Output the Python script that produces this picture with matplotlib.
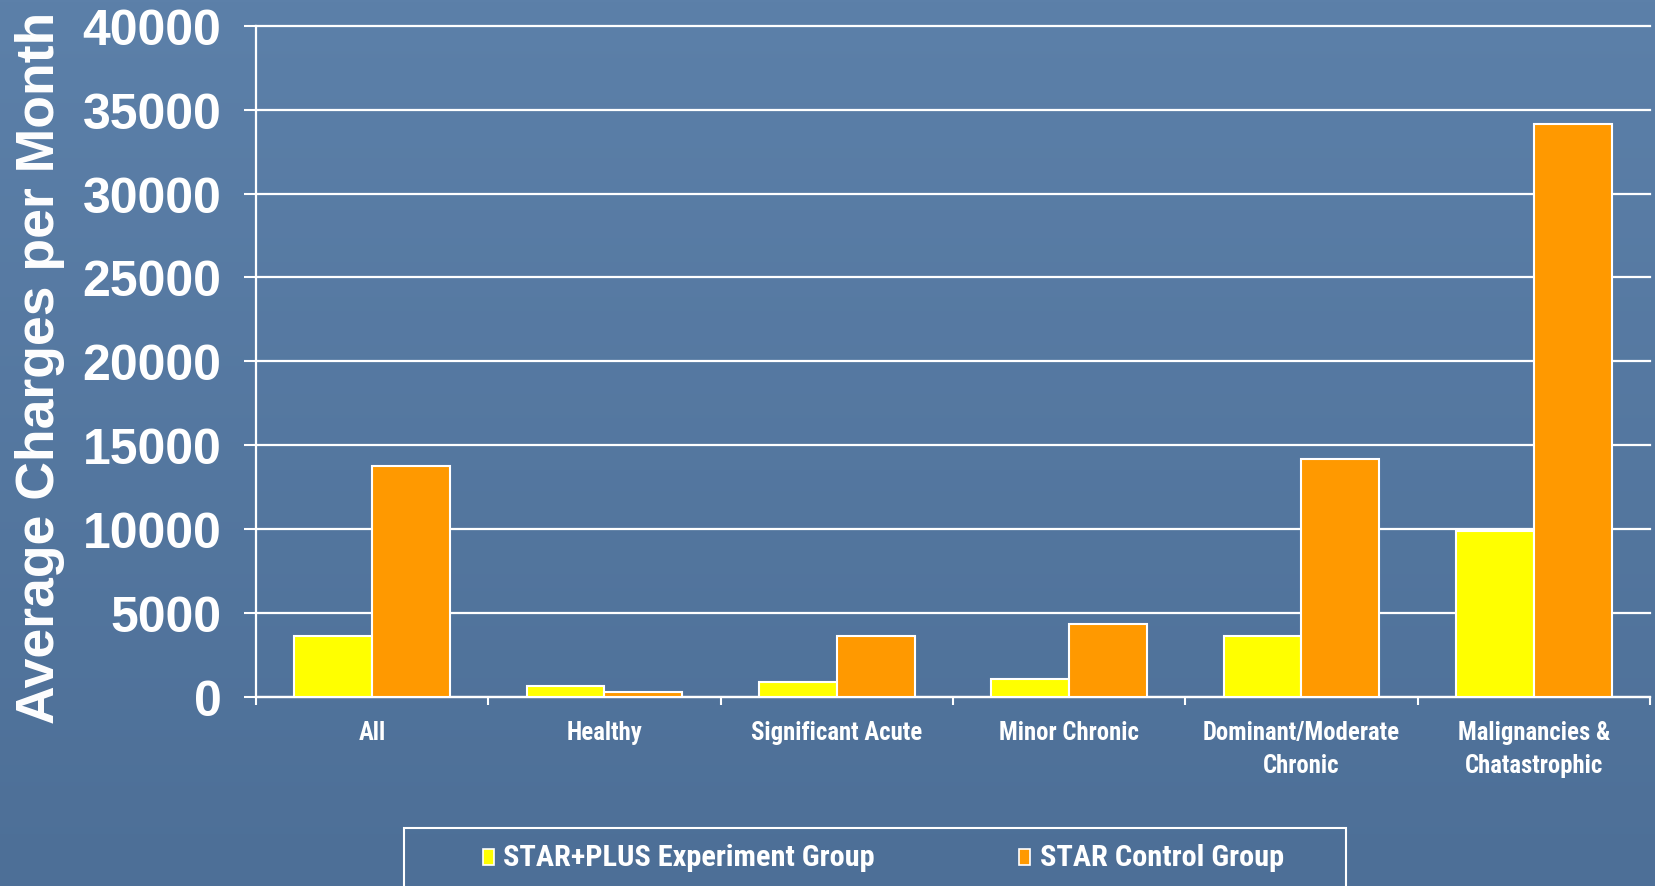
import numpy as np
import matplotlib
matplotlib.use("Agg")
import matplotlib.pyplot as plt
import matplotlib.font_manager as fm
from matplotlib.patches import Rectangle

# ---- data ----
categories = ["All", "Healthy", "Significant Acute", "Minor Chronic",
              "Dominant/Moderate\nChronic", "Malignancies &\nChatastrophic"]
experiment = [3600, 650, 900, 1050, 3600, 9850]      # STAR+PLUS Experiment Group
control = [13750, 250, 3600, 4350, 14150, 34150]     # STAR Control Group
series_names = ["STAR+PLUS Experiment Group", "STAR Control Group"]
y_ticks = [0, 5000, 10000, 15000, 20000, 25000, 30000, 35000, 40000]
y_label = "Average Charges per Month"

W, H = 1656, 887
YELLOW = "#FFFF00"
ORANGE = "#FF9900"


def fx(x):
    return x / W


def fy(y):
    return 1 - y / H


# ---- pick a condensed bold font if one is installed ----
def find_condensed_bold():
    prefs = ["Liberation Sans Narrow", "Roboto Condensed", "Open Sans Condensed",
             "DejaVu Sans Condensed", "Noto Sans Condensed"]
    cands = []
    for f in fm.fontManager.ttflist:
        is_bold = (f.weight in ("bold", 700, "heavy", "black", 800, 900)
                   or (isinstance(f.weight, int) and f.weight >= 600))
        cond = ("Narrow" in f.name or "Condensed" in f.name
                or f.stretch in ("condensed", "semi-condensed", "extra-condensed")
                or "Condensed" in f.fname or "Narrow" in f.fname)
        if is_bold and cond and "Italic" not in f.fname and "Oblique" not in f.fname \
                and f.style == "normal":
            rank = len(prefs)
            for i, p in enumerate(prefs):
                if p.split()[0] in f.name or p.replace(" ", "") in f.fname:
                    rank = i
                    break
            cands.append((rank, f.fname))
    if cands:
        cands.sort()
        return fm.FontProperties(fname=cands[0][1])
    return fm.FontProperties(family=["Liberation Sans", "DejaVu Sans"], weight="bold")


cond_fp = find_condensed_bold()
wide_fp = fm.FontProperties(family=["Liberation Sans", "DejaVu Sans"], weight="bold")

fig = plt.figure(figsize=(W / 100, H / 100), dpi=100)
renderer = fig.canvas.get_renderer()


def fit_size(s, fp, target_px):
    fp2 = fp.copy()
    fp2.set_size(20)
    t = fig.text(0, 0, s, fontproperties=fp2)
    bb = t.get_window_extent(renderer)
    t.remove()
    return 20 * target_px / bb.width


xlab_size = fit_size("Significant Acute", cond_fp, 171)
leg_size = fit_size("STAR+PLUS Experiment Group", cond_fp, 371)
ylab_size = fit_size(y_label, wide_fp, 711)

# background gradient
bg = fig.add_axes([0, 0, 1, 1], zorder=-10)
top_c = np.array([0x5C, 0x80, 0xA9]) / 255
bot_c = np.array([0x4D, 0x6F, 0x97]) / 255
tt = np.linspace(0, 1, 256)[:, None]
grad = top_c[None, :] * (1 - tt) + bot_c[None, :] * tt
bg.imshow(grad[:, None, :].repeat(2, axis=1), aspect="auto", extent=[0, 1, 0, 1])
bg.set_axis_off()

left, right = 256, 1650
top, bottom = 27, 697.6
ax = fig.add_axes([fx(left), fy(bottom), (right - left) / W, (bottom - top) / H])
ax.set_facecolor("none")

x = np.arange(len(categories))
w = 0.335
ax.bar(x - w / 2, experiment, w, color=YELLOW, edgecolor="white", linewidth=1.5, zorder=3)
ax.bar(x + w / 2, control, w, color=ORANGE, edgecolor="white", linewidth=1.5, zorder=3)

ax.set_xlim(-0.5, len(categories) - 0.5)
ax.set_ylim(0, 40000)

ax.set_yticks(y_ticks)
ax.set_yticklabels([str(v) for v in y_ticks], family=["Liberation Sans", "DejaVu Sans"],
                   fontsize=36, fontweight="bold", color="white")
ax.yaxis.grid(True, color="white", linewidth=1.6, zorder=1)
for gl in ax.get_ygridlines():
    gl.set_clip_on(False)
ax.set_axisbelow(True)
ax.tick_params(axis="y", direction="out", length=9, width=1.5, color="white", pad=16)

ax.set_xticks(x)
xfp = cond_fp.copy()
xfp.set_size(xlab_size)
ax.set_xticklabels(categories, fontproperties=xfp, color="white", linespacing=1.45)
ax.set_xticks(np.arange(-0.5, len(categories), 1.0), minor=True)
ax.tick_params(axis="x", which="major", length=0, pad=17)
ax.tick_params(axis="x", which="minor", direction="out", length=6, width=1.5, color="white")

for s in ["top", "right"]:
    ax.spines[s].set_visible(False)
for s in ["left", "bottom"]:
    ax.spines[s].set_color("white")
    ax.spines[s].set_linewidth(1.6)

# y label
yfp = wide_fp.copy()
yfp.set_size(ylab_size)
fig.text(fx(40), fy(367.5), y_label, rotation=90, ha="center", va="center",
         fontproperties=yfp, color="white")

# legend (frame cut off at bottom like the original)
frame = Rectangle((fx(404.5), fy(895)), (1346.5 - 404.5) / W, (895 - 829) / H,
                  transform=fig.transFigure, facecolor="none", edgecolor="white",
                  linewidth=1.5, clip_on=False)
fig.add_artist(frame)
lfp = cond_fp.copy()
lfp.set_size(leg_size)
entries = [(483, 503, YELLOW), (1019, 1040, ORANGE)]
for (mx, tx, col), name in zip(entries, series_names):
    fig.add_artist(Rectangle((fx(mx), fy(866)), 11 / W, 16 / H, transform=fig.transFigure,
                             facecolor=col, edgecolor="white", linewidth=1.2))
    fig.text(fx(tx), fy(858.5), name, ha="left", va="center", fontproperties=lfp,
             color="white")

fig.savefig("out.png", dpi=100)
